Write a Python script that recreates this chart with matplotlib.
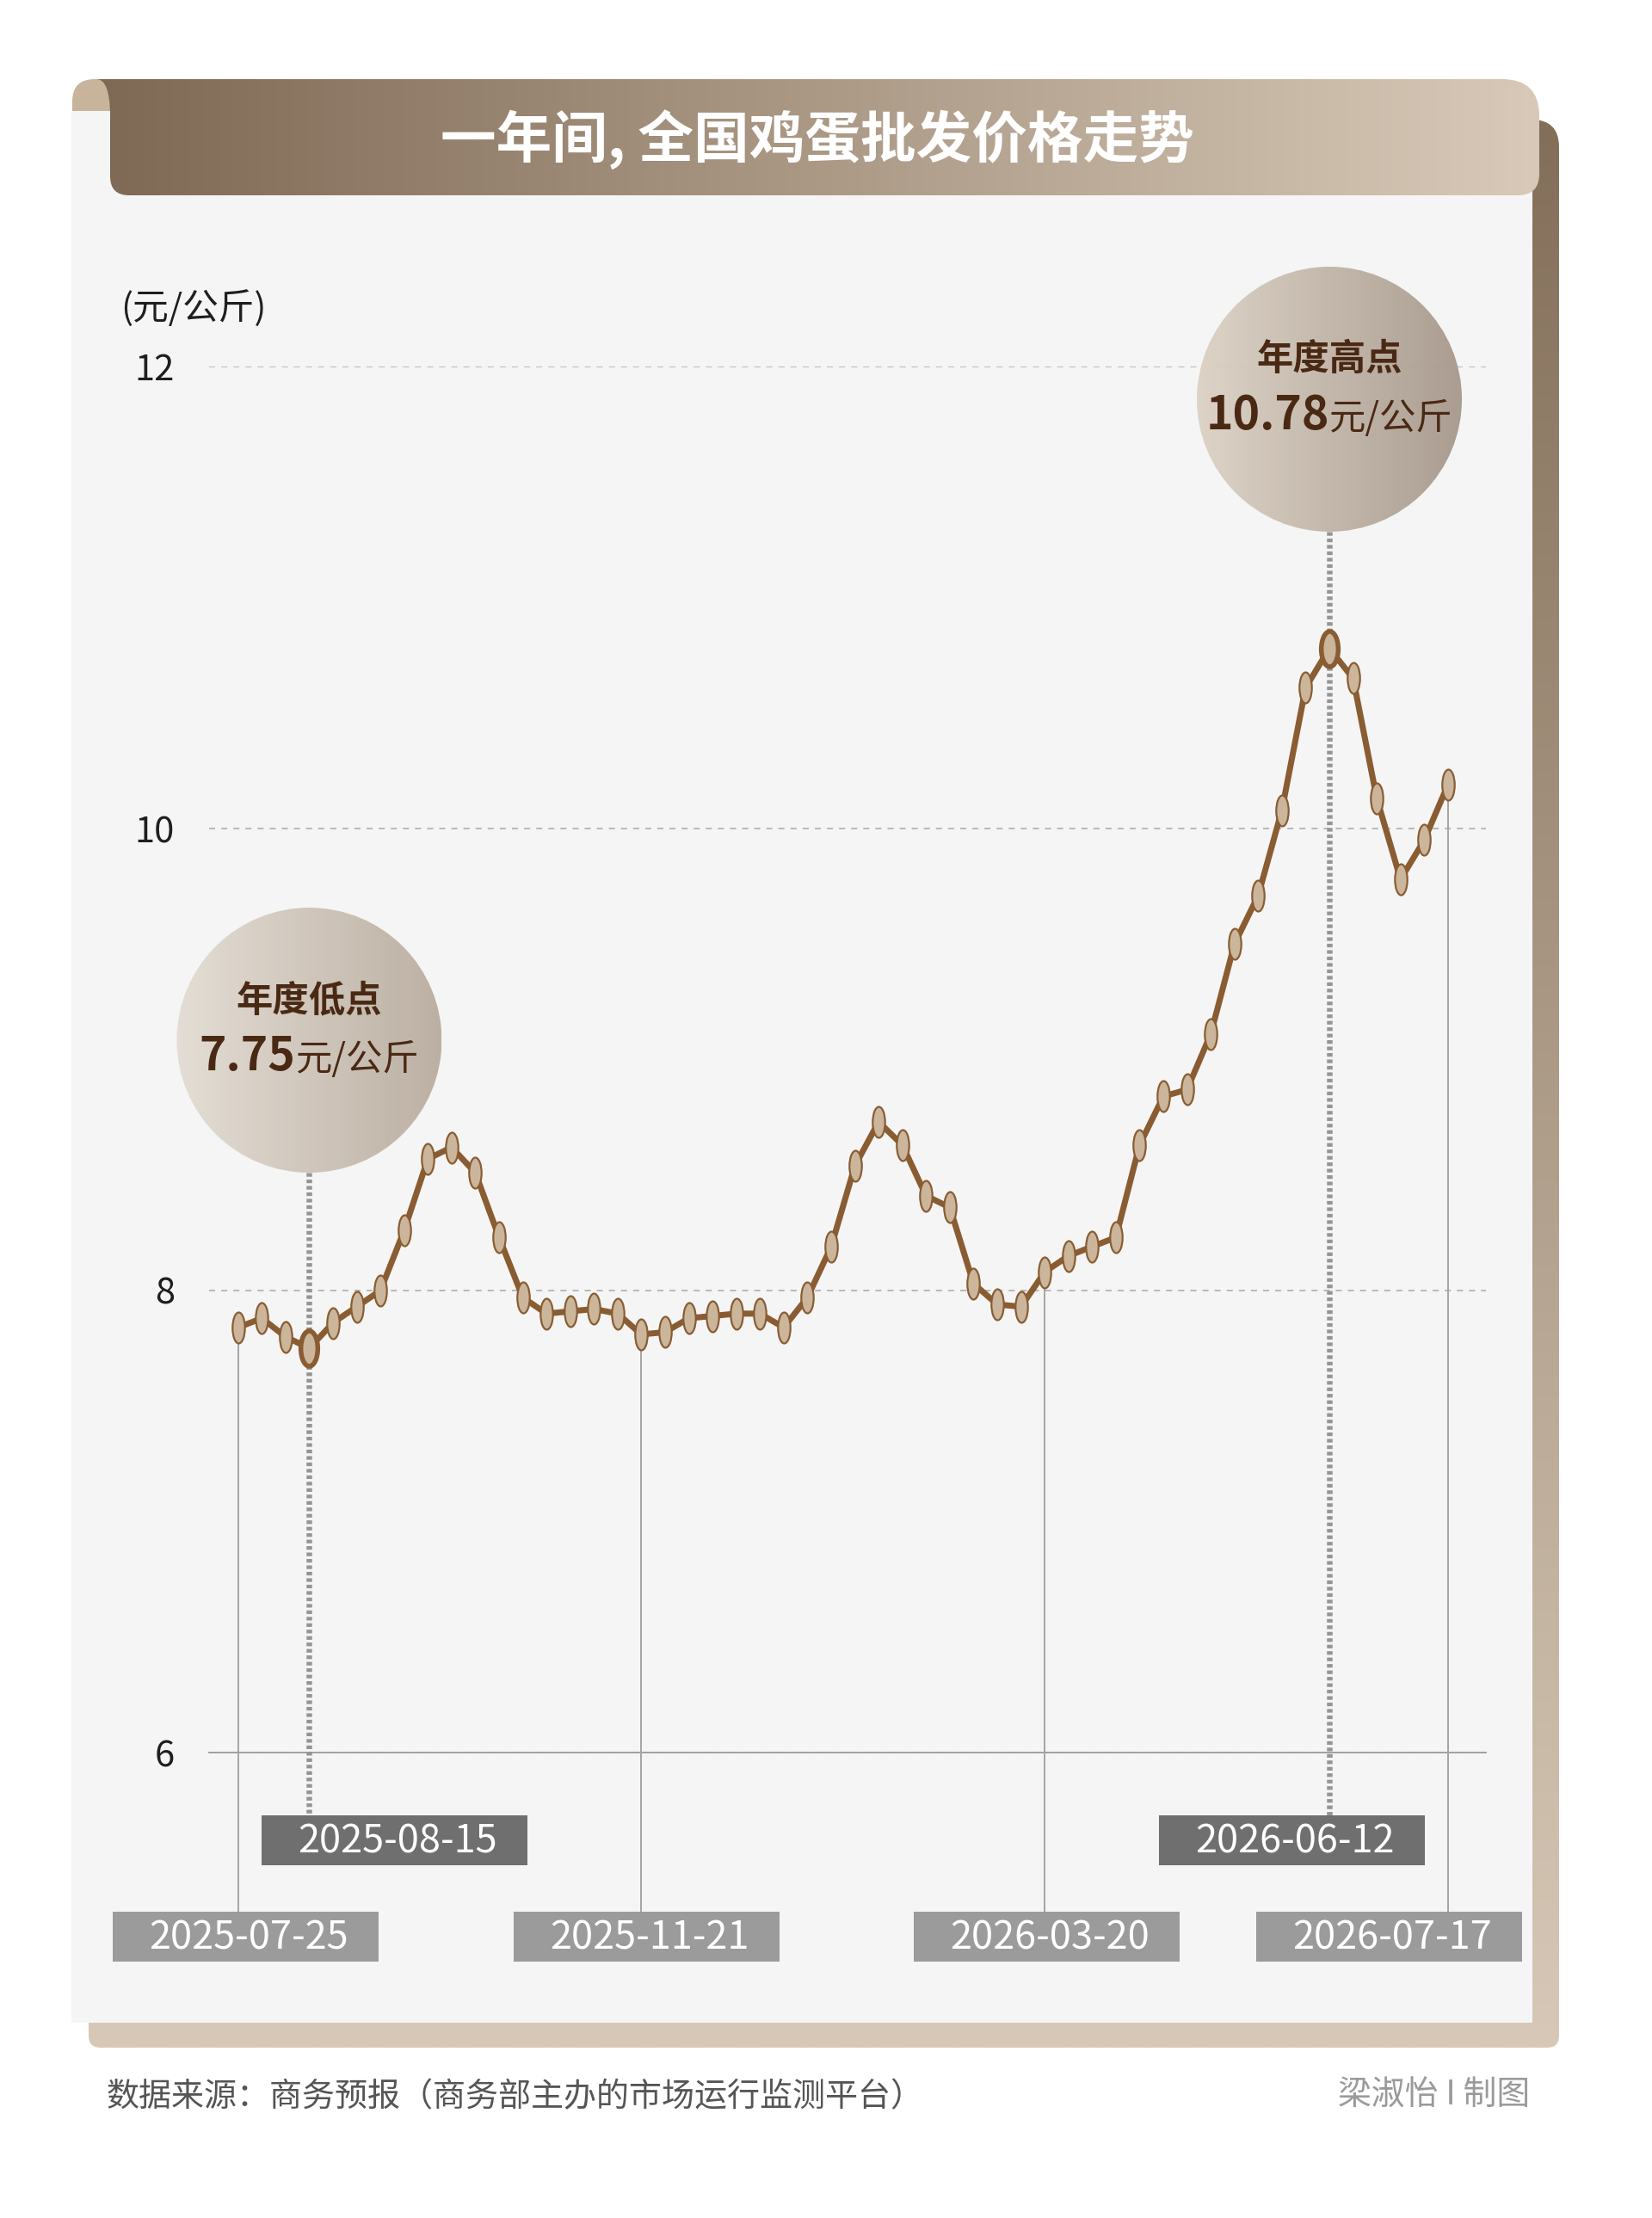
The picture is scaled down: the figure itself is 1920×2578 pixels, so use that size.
import numpy as np
import pandas as pd
import matplotlib
matplotlib.use("Agg")
import matplotlib.pyplot as plt
import matplotlib.dates as mdates
from matplotlib.colors import to_rgb
from matplotlib.patches import Circle, PathPatch, Rectangle
from matplotlib.path import Path
from matplotlib.transforms import Affine2D

plt.rcParams["font.family"] = ["Noto Sans CJK SC", "DejaVu Sans"]

W, H, DPI = 1920, 2578, 100

# weekly wholesale egg price, yuan / kg
DATES = [
    "2025-07-25", "2025-08-01", "2025-08-08", "2025-08-15", "2025-08-22", "2025-08-29",
    "2025-09-05", "2025-09-12", "2025-09-19", "2025-09-26",
    "2025-10-03", "2025-10-10", "2025-10-17", "2025-10-24", "2025-10-31",
    "2025-11-07", "2025-11-14", "2025-11-21", "2025-11-28",
    "2025-12-05", "2025-12-12", "2025-12-19", "2025-12-26",
    "2026-01-02", "2026-01-09", "2026-01-16", "2026-01-23", "2026-01-30",
    "2026-02-06", "2026-02-13", "2026-02-20", "2026-02-27",
    "2026-03-06", "2026-03-13", "2026-03-20", "2026-03-27",
    "2026-04-03", "2026-04-10", "2026-04-17", "2026-04-24",
    "2026-05-01", "2026-05-08", "2026-05-15", "2026-05-22", "2026-05-29",
    "2026-06-05", "2026-06-12", "2026-06-19", "2026-06-26",
    "2026-07-03", "2026-07-10", "2026-07-17",
]
PRICES = [
    7.84, 7.88, 7.80, 7.75, 7.86, 7.93, 8.00, 8.26, 8.57, 8.62,
    8.51, 8.23, 7.97, 7.90, 7.91, 7.92, 7.90, 7.81, 7.82, 7.88,
    7.89, 7.90, 7.90, 7.84, 7.97, 8.19, 8.54, 8.73, 8.63, 8.41,
    8.36, 8.03, 7.94, 7.93, 8.08, 8.15, 8.19, 8.23, 8.63, 8.84,
    8.87, 9.11, 9.50, 9.71, 10.08, 10.61, 10.78, 10.65, 10.13, 9.78,
    9.95, 10.19,
]
TICKS = [6, 8, 10, 12]
TICK_LABELS = ["6", "8", "10", "12"]
PLAIN_DATES = ["2025-07-25", "2025-11-21", "2026-03-20", "2026-07-17"]

TITLE = "一年间, 全国鸡蛋批发价格走势"
UNIT = "(元/公斤)"
LOW_TITLE = "年度低点"
HIGH_TITLE = "年度高点"
PRICE_UNIT = "元/公斤"
SOURCE = "数据来源：商务预报（商务部主办的市场运行监测平台）"
CREDIT = "梁淑怡 I 制图"

C = {
    "panel": "#f5f5f5",
    "line": "#8a5c32",
    "egg": "#cbb69c",
    "brown_text": "#4a2914",
    "grid": "#ababab",
    "box_light": "#9b9b9b",
    "box_dark": "#6f6f6f",
    "dots": "#959595",
    "curl": "#c8b49b",
}

# layout in figure pixels (y measured from top)
PLAIN_BOX_X = [285, 751, 1216, 1614]
PEAK_BOX_X = [458, 1501]
BOX_W, BOX_H = 309, 58
PLAIN_BOX_Y = 2222
PEAK_BOX_Y = 2110
BUBBLE_R = 154
BUBBLE_Y = {"low": 1209, "high": 464}


def pt(px):
    return px * 72 / DPI


def rounded_path(x0, y0, x1, y1, tl, tr, br, bl):
    v = [(x0, y0 + tl), (x0, y0), (x0 + tl, y0),
         (x1 - tr, y0), (x1, y0), (x1, y0 + tr),
         (x1, y1 - br), (x1, y1), (x1 - br, y1),
         (x0 + bl, y1), (x0, y1), (x0, y1 - bl),
         (x0, y0 + tl)]
    c = [Path.MOVETO, Path.CURVE3, Path.CURVE3,
         Path.LINETO, Path.CURVE3, Path.CURVE3,
         Path.LINETO, Path.CURVE3, Path.CURVE3,
         Path.LINETO, Path.CURVE3, Path.CURVE3,
         Path.CLOSEPOLY]
    return Path(v, c)


def gradient(ax, x0, y0, x1, y1, c0, c1, clip, vertical=False, z=1, alpha=1.0):
    t = np.linspace(0, 1, 256)[:, None]
    a, b = np.array(to_rgb(c0)), np.array(to_rgb(c1))
    img = a + (b - a) * t
    img = img[:, None, :] if vertical else img[None, :, :]
    im = ax.imshow(img, extent=(x0, x1, y1, y0), origin="upper", aspect="auto",
                   interpolation="bilinear", zorder=z, alpha=alpha)
    im.set_clip_path(clip)
    return im


fig = plt.figure(figsize=(W / DPI, H / DPI), dpi=DPI)
fig.patch.set_facecolor("white")

bg = fig.add_axes([0, 0, 1, 1], zorder=0)
fg = fig.add_axes([0, 0, 1, 1], zorder=2)
for a in (bg, fg):
    a.set_xlim(0, W)
    a.set_ylim(H, 0)
    a.axis("off")
    a.patch.set_alpha(0)

# back page (right and bottom strip)
back = PathPatch(rounded_path(103, 139, 1812, 2380, 0, 32, 14, 14), transform=bg.transData)
gradient(bg, 103, 139, 1812, 2380, "#836f59", "#d7c8b7", back, vertical=True, z=1)
bg.add_patch(Rectangle((83, 129), 1781 - 83, 2351 - 129, facecolor=C["panel"], edgecolor="none", zorder=2))

# title banner with curled corner
curl = Path([(84, 129), (84, 118), (84, 92), (110, 92), (130, 92), (130, 129), (84, 129)],
            [Path.MOVETO, Path.LINETO, Path.CURVE3, Path.CURVE3, Path.LINETO, Path.LINETO, Path.CLOSEPOLY])
bg.add_patch(PathPatch(curl, facecolor=C["curl"], edgecolor="none", zorder=3))
banner = Path(
    [(112, 92), (1746, 92), (1789, 92), (1789, 135), (1789, 202), (1789, 227), (1764, 227),
     (150, 227), (128, 227), (128, 205), (128, 135), (128, 92), (112, 92), (112, 92)],
    [Path.MOVETO, Path.LINETO, Path.CURVE3, Path.CURVE3, Path.LINETO, Path.CURVE3, Path.CURVE3,
     Path.LINETO, Path.CURVE3, Path.CURVE3, Path.LINETO, Path.CURVE3, Path.CURVE3, Path.CLOSEPOLY])
gradient(bg, 110, 92, 1790, 227, "#7e6954", "#d8c9b8", PathPatch(banner, transform=bg.transData), z=4)
bg.text(950, 162, TITLE, color="white", fontsize=46.5, fontweight="heavy", ha="center", va="center", zorder=5)

# data axes
ax = fig.add_axes([243 / W, 1 - 2037 / H, (1727 - 243) / W, (2037 - 426) / H], zorder=1)
ax.patch.set_alpha(0)
x = mdates.date2num(pd.to_datetime(DATES))
ax.set_xlim(x[0] - 8.56, x[-1] + 11.2)
ax.set_ylim(6, 12)
ax.set_yticks(TICKS)
ax.set_yticklabels(TICK_LABELS)
ax.set_xticks([])
ax.tick_params(axis="y", length=0, pad=pt(40), labelsize=30, labelcolor="#1e1e1e")
ax.yaxis.grid(True, color=C["grid"], lw=pt(1.6), linestyle=(0, (4.4, 4.4)))
ax.set_axisbelow(True)
for side in ("left", "right", "top"):
    ax.spines[side].set_visible(False)
ax.spines["bottom"].set_color("#9a9a9a")
ax.spines["bottom"].set_linewidth(pt(1.8))

prices = np.array(PRICES)
i_low, i_high = int(np.argmin(prices)), int(np.argmax(prices))


def to_px(xv, yv):
    dx, dy = ax.transData.transform((xv, yv))
    return dx, H - dy


def px_to_val(py):
    return ax.transData.inverted().transform((0, H - py))[1]


egg = Path.unit_circle().transformed(Affine2D().scale(0.40, 1.0))
big_egg = Path.unit_circle().transformed(Affine2D().scale(0.48, 1.0))

ax.plot(x, prices, color=C["line"], lw=pt(7), zorder=4, solid_joinstyle="round", clip_on=False)
mask = np.ones(len(x), bool)
mask[[i_low, i_high]] = False
ax.plot(x[mask], prices[mask], ls="none", marker=egg, ms=pt(36), mfc=C["egg"], mec=C["line"],
        mew=pt(2.2), zorder=5, clip_on=False)
ax.plot(x[[i_low, i_high]], prices[[i_low, i_high]], ls="none", marker=big_egg, ms=pt(41),
        mfc=C["egg"], mec=C["line"], mew=pt(5.5), zorder=6, clip_on=False)

# thin leader lines to the plain date labels
dates_idx = list(pd.to_datetime(DATES))
for d in PLAIN_DATES:
    i = dates_idx.index(pd.Timestamp(d))
    ax.vlines(x[i], px_to_val(PLAIN_BOX_Y), prices[i], colors="#a6a6a6", lw=pt(2), zorder=3, clip_on=False)

# dotted leaders from bubbles to the extreme dates
for key, i in (("low", i_low), ("high", i_high)):
    top = BUBBLE_Y[key] + BUBBLE_R
    ax.plot([x[i], x[i]], [px_to_val(top), px_to_val(PEAK_BOX_Y)], color=C["dots"], lw=pt(6.5),
            ls=(0, (0.65, 0.5)), dash_capstyle="butt", zorder=3, clip_on=False)

# date label boxes
for d, cx in zip(PLAIN_DATES, PLAIN_BOX_X):
    fg.add_patch(Rectangle((cx - BOX_W / 2, PLAIN_BOX_Y), BOX_W, BOX_H, facecolor=C["box_light"], edgecolor="none"))
    fg.text(cx + 4, PLAIN_BOX_Y + BOX_H / 2 + 2, d, color="white", fontsize=32.5, ha="center", va="center")
for i, cx in zip((i_low, i_high), PEAK_BOX_X):
    fg.add_patch(Rectangle((cx - BOX_W / 2, PEAK_BOX_Y), BOX_W, BOX_H, facecolor=C["box_dark"], edgecolor="none"))
    fg.text(cx + 4, PEAK_BOX_Y + BOX_H / 2 + 2, DATES[i], color="white", fontsize=32.5, ha="center", va="center")

# bubbles
renderer = fig.canvas.get_renderer()
bubbles = (("low", i_low, LOW_TITLE, "#e3dcd3", "#b8ab9d"),
           ("high", i_high, HIGH_TITLE, "#dcd1c4", "#a5968a"))
for key, i, title, c0, c1 in bubbles:
    cx, _ = to_px(x[i], prices[i])
    cy = BUBBLE_Y[key]
    circ = Circle((cx, cy), BUBBLE_R, transform=fg.transData)
    gradient(fg, cx - BUBBLE_R, cy - BUBBLE_R, cx + BUBBLE_R, cy + BUBBLE_R, c0, c1, circ, z=1, alpha=0.93)
    fg.text(cx, cy - 46, title, color=C["brown_text"], fontsize=30.5, fontweight="bold",
            ha="center", va="center", zorder=3)
    num = fg.text(0, cy + 35, f"{prices[i]:.2f}", color=C["brown_text"], fontsize=38.5,
                  fontweight="bold", ha="left", va="baseline", zorder=3)
    unit = fg.text(0, cy + 35, PRICE_UNIT, color=C["brown_text"], fontsize=30.5,
                   ha="left", va="baseline", zorder=3)
    wn = num.get_window_extent(renderer).width
    wu = unit.get_window_extent(renderer).width
    start = cx - (wn + wu) / 2
    num.set_x(start)
    unit.set_x(start + wn)

# unit label and footer
fg.text(140, 358, UNIT, color="#1e1e1e", fontsize=30, ha="left", va="center")
fg.text(124, 2438, SOURCE, color="#555555", fontsize=27.4, ha="left", va="center")
fg.text(1778, 2436, CREDIT, color="#9a9a9a", fontsize=28, ha="right", va="center")

fig.savefig("out.png", dpi=DPI, facecolor="white")
